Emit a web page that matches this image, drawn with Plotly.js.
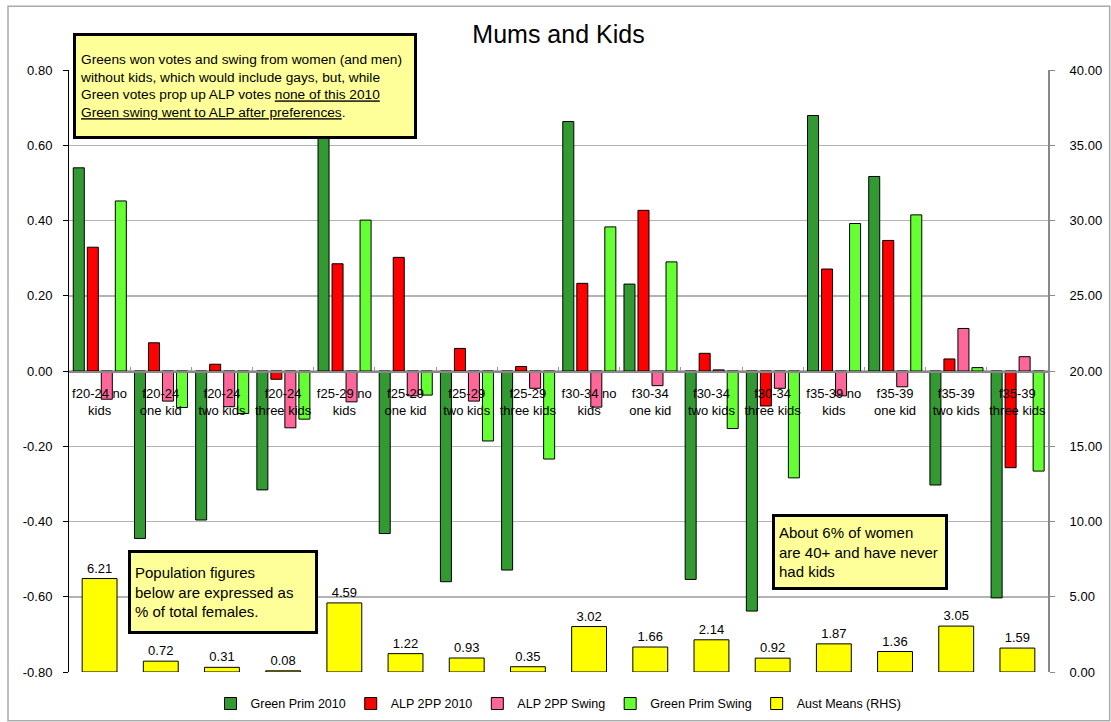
<!DOCTYPE html>
<html>
<head>
<meta charset="utf-8">
<script src="https://cdn.plot.ly/plotly-3.0.1.min.js"></script>
<style>
  body { margin: 0; background: #fff; }
  #plotly { width: 1111px; height: 722px; }
</style>
</head>
<body>
<div id="plotly"></div>
<script>
// categories along the x axis
const categories = [
    'f20-24 no<br>kids', 'f20-24<br>one kid', 'f20-24<br>two kids', 'f20-24<br>three kids',
    'f25-29 no<br>kids', 'f25-29<br>one kid', 'f25-29<br>two kids', 'f25-29<br>three kids',
    'f30-34 no<br>kids', 'f30-34<br>one kid', 'f30-34<br>two kids', 'f30-34<br>three kids',
    'f35-39 no<br>kids', 'f35-39<br>one kid', 'f35-39<br>two kids', 'f35-39<br>three kids'
];

// left axis series
const greenPrim2010 = [0.54, -0.445, -0.396, -0.316, 0.70, -0.432, -0.56, -0.529,
                       0.663, 0.231, -0.554, -0.638, 0.679, 0.517, -0.303, -0.603];
const alp2pp2010 = [0.329, 0.075, 0.018, -0.022, 0.285, 0.302, 0.06, 0.012,
                    0.233, 0.427, 0.047, -0.093, 0.271, 0.347, 0.032, -0.257];
const alp2ppSwing = [-0.075, -0.08, -0.095, -0.151, -0.082, -0.066, -0.08, -0.046,
                     -0.096, -0.039, 0.003, -0.046, -0.066, -0.042, 0.113, 0.038];
const greenPrimSwing = [0.452, -0.097, -0.113, -0.128, 0.401, -0.064, -0.186, -0.234,
                        0.383, 0.29, -0.153, -0.284, 0.392, 0.415, 0.009, -0.266];

// right axis series (% of total females)
const austMeans = [6.21, 0.72, 0.31, 0.08, 4.59, 1.22, 0.93, 0.35,
                   3.02, 1.66, 2.14, 0.92, 1.87, 1.36, 3.05, 1.59];

const leftTicks = [-0.8, -0.6, -0.4, -0.2, 0, 0.2, 0.4, 0.6, 0.8];
const rightTicks = [0, 5, 10, 15, 20, 25, 30, 35, 40];

const FONT = 'Liberation Sans, Arial, sans-serif';

const barLine = { color: '#000', width: 1 };
const barW = 0.18;

const data = [
    { name: 'Green Prim 2010', y: greenPrim2010, color: '#339933', offset: -0.43 },
    { name: 'ALP 2PP 2010', y: alp2pp2010, color: '#ff0000', offset: -0.201 },
    { name: 'ALP 2PP Swing', y: alp2ppSwing, color: '#ff6699', offset: 0.028 },
    { name: 'Green Prim Swing', y: greenPrimSwing, color: '#66ff33', offset: 0.257 }
].map(s => ({
    type: 'bar',
    name: s.name,
    x: categories,
    y: s.y,
    width: barW,
    offset: s.offset,
    marker: { color: s.color, line: barLine },
    hoverinfo: 'skip'
}));

data.push({
    type: 'bar',
    name: 'Aust Means (RHS)',
    x: categories,
    y: austMeans,
    yaxis: 'y2',
    width: 0.57,
    offset: -0.285,
    marker: { color: '#ffff00', line: barLine },
    text: austMeans.map(v => v.toFixed(2)),
    textposition: 'outside',
    cliponaxis: false,
    textfont: { family: FONT, size: 13, color: '#000' },
    hoverinfo: 'skip'
});

// plot area is 69..1048 px wide, 70..672 px tall
const boxes = [
    {
        x: 0.004, y: 1.061, w: 330, h: 92, size: 13.7,
        text: 'Greens won votes and swing from women (and men)<br>' +
              'without kids, which would include gays, but, while<br>' +
              'Green votes prop up ALP votes <u>none of this 2010</u><br>' +
              '<u>Green swing went to ALP after preferences</u>.'
    },
    {
        x: 0.0603, y: 0.2026, w: 176, h: 70, size: 15,
        text: 'Population figures<br>below are expressed as<br>% of total females.'
    },
    {
        x: 0.718, y: 0.2624, w: 162, h: 62, size: 15,
        text: 'About 6% of women<br>are 40+ and have never<br>had kids'
    }
];

const layout = {
    width: 1111,
    height: 722,
    margin: { l: 69, r: 63, t: 70, b: 50, pad: 0, autoexpand: false },
    paper_bgcolor: '#fff',
    plot_bgcolor: '#fff',
    barmode: 'overlay',
    font: { family: FONT, color: '#000' },
    title: {
        text: 'Mums and Kids',
        font: { family: FONT, size: 25, color: '#000' },
        x: 0.5, xref: 'paper', xanchor: 'center',
        y: 0.952, yref: 'container', yanchor: 'middle'
    },
    xaxis: {
        type: 'category',
        anchor: 'free',
        position: 0.5,
        showline: true,
        linecolor: '#888',
        linewidth: 1.5,
        showgrid: false,
        ticks: 'inside',
        tickson: 'boundaries',
        ticklen: 4,
        tickcolor: '#999',
        ticklabelstandoff: 10,
        tickangle: 0,
        tickfont: { family: FONT, size: 13, color: '#000' },
        range: [-0.5, 15.5],
        fixedrange: true
    },
    yaxis: {
        range: [-0.8, 0.8],
        tickvals: leftTicks,
        ticktext: leftTicks.map(v => v.toFixed(2)),
        showline: true,
        linecolor: '#000',
        linewidth: 1,
        ticks: 'outside',
        ticklen: 5,
        tickcolor: '#000',
        gridcolor: '#b3b3b3',
        gridwidth: 1.5,
        zeroline: false,
        tickfont: { family: FONT, size: 13, color: '#000' },
        ticklabelstandoff: 8,
        fixedrange: true
    },
    yaxis2: {
        overlaying: 'y',
        side: 'right',
        range: [0, 40],
        tickvals: rightTicks,
        ticktext: rightTicks.map(v => v.toFixed(2)),
        showline: true,
        linecolor: '#888',
        linewidth: 2,
        ticks: 'outside',
        ticklen: 5,
        tickcolor: '#888',
        showgrid: false,
        zeroline: false,
        tickfont: { family: FONT, size: 13, color: '#000' },
        ticklabelstandoff: 12,
        fixedrange: true
    },
    showlegend: true,
    legend: {
        orientation: 'h',
        x: 0.5, xanchor: 'center',
        y: -0.053, yanchor: 'middle',
        font: { family: FONT, size: 12.5, color: '#000' },
        traceorder: 'normal',
        itemwidth: 30
    },
    shapes: [{
        type: 'rect', xref: 'paper', yref: 'paper',
        x0: -0.0623, x1: 1.063, y0: -0.081, y1: 1.106,
        line: { color: '#aaa', width: 1.5 }, layer: 'below'
    }],
    annotations: boxes.map(b => ({
        xref: 'paper', yref: 'paper',
        x: b.x, y: b.y,
        xanchor: 'left', yanchor: 'top',
        width: b.w, height: b.h,
        align: 'left', valign: 'middle',
        showarrow: false,
        text: b.text,
        font: { family: FONT, size: b.size, color: '#000' },
        bgcolor: '#ffff99',
        bordercolor: '#000',
        borderwidth: 3,
        borderpad: 4
    }))
};

Plotly.newPlot('plotly', data, layout, { displayModeBar: false, staticPlot: true });
</script>
</body>
</html>
